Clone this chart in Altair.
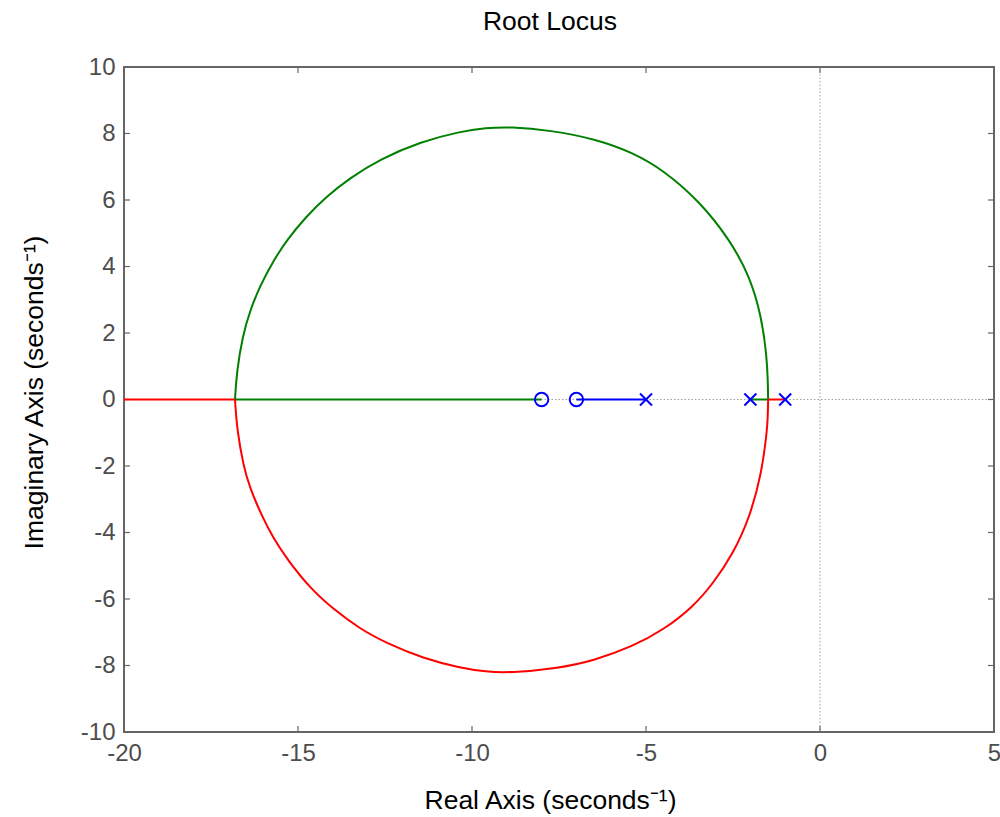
import altair as alt
import pandas as pd

# Open-loop poles (x) and zeros (o), all on the real axis
pole_re = [-1, -2, -5]
zero_re = [-8, -7]

# Breakaway and break-in points on the real axis
brk_right = -1.49
brk_left = -16.81

# Complex branch leaving the real axis at brk_right and re-entering at brk_left
upper_re = [-1.49, -1.50, -1.53, -1.68, -2.01, -2.59, -3.45, -4.50, -5.37, -6.42,
            -7.76, -8.91, -9.60, -10.34, -11.49, -12.64, -13.50, -14.20, -14.80,
            -15.30, -15.70, -16.09, -16.38, -16.59, -16.76, -16.81]
upper_im = [0, 0.60, 1.29, 2.49, 3.69, 4.80, 5.95, 6.90, 7.42, 7.83,
            8.10, 8.20, 8.17, 8.06, 7.75, 7.23, 6.67, 6.09, 5.46,
            4.82, 4.19, 3.42, 2.67, 1.92, 0.85, 0]
lower_re = [-1.49, -1.50, -1.53, -1.68, -2.01, -2.49, -3.07, -3.64, -4.50, -5.37,
            -6.51, -7.57, -8.91, -9.60, -10.34, -11.40, -12.45, -13.22, -13.99,
            -14.66, -15.32, -15.70, -16.04, -16.38, -16.57, -16.76, -16.81]
lower_im = [0, -0.55, -1.02, -2.22, -3.52, -4.63, -5.53, -6.23, -6.93, -7.42,
            -7.86, -8.09, -8.22, -8.19, -8.07, -7.79, -7.33, -6.90, -6.30,
            -5.67, -4.79, -4.19, -3.50, -2.67, -2.00, -0.85, 0]

x_ticks = [-20, -15, -10, -5, 0, 5]
y_ticks = [-10, -8, -6, -4, -2, 0, 2, 4, 6, 8, 10]

# Each branch is drawn as a few pieces: straight runs on the real axis and the arc
pieces = [
    ("blue", "b0", [-5, -7], [0, 0]),
    ("green", "g0", [-2, brk_right], [0, 0]),
    ("green", "g1", upper_re, upper_im),
    ("green", "g2", [brk_left, -8], [0, 0]),
    ("red", "r0", [-1, brk_right], [0, 0]),
    ("red", "r1", lower_re, lower_im),
    ("red", "r2", [brk_left, -20], [0, 0]),
]
rows = []
for branch, piece, re, im in pieces:
    for i, (r, m) in enumerate(zip(re, im)):
        rows.append({"branch": branch, "piece": piece, "k": i, "re": r, "im": m})
locus = pd.DataFrame(rows)

poles = pd.DataFrame({"re": pole_re, "im": [0] * len(pole_re)})
zeros = pd.DataFrame({"re": zero_re, "im": [0] * len(zero_re)})
xt = pd.DataFrame({"v": x_ticks})
yt = pd.DataFrame({"v": y_ticks})
origin = pd.DataFrame({"v": [0]})
heading = pd.DataFrame({"t": ["Root Locus"]})

W, H = 870, 665
FONT = "Liberation Sans"
GREY = "#666666"

x_scale = alt.Scale(domain=[-20, 5], nice=False, zero=False)
y_scale = alt.Scale(domain=[-10, 10], nice=False, zero=False)

common = dict(grid=False, domain=False, ticks=False, tickSize=0,
              labelFontSize=24, labelColor="#4d4d4d", labelPadding=9,
              labelFont=FONT, labelFlush=False, labelOverlap=False,
              labelExpr="'' + datum.value",
              titleFont=FONT, titleFontSize=26.5, titleFontWeight="normal",
              titleColor="#000000", titleBaseline="alphabetic", titleAlign="center")

x_axis = alt.Axis(values=x_ticks, title="Real Axis (seconds\u207b\u00b9)",
                  titleX=426, titleY=76, **common)
y_axis = alt.Axis(values=y_ticks, title="Imaginary Axis (seconds\u207b\u00b9)",
                  titleX=-82, titleY=325, titleAngle=270, **common)


def X(field):
    return alt.X(field, type="quantitative", scale=x_scale, axis=x_axis)


def Y(field):
    return alt.Y(field, type="quantitative", scale=y_scale, axis=y_axis)


# Dotted reference lines through the origin
h_zero = alt.Chart(origin).mark_rule(color="#a0a0a0", strokeWidth=1, strokeDash=[1.5, 2]).encode(y=Y("v"))
v_zero = alt.Chart(origin).mark_rule(color="#a0a0a0", strokeWidth=1, strokeDash=[1.5, 2]).encode(x=X("v"))

# Inward tick marks on all four sides of the box
tick_len = 6
t_bottom = alt.Chart(xt).mark_rule(color=GREY, strokeWidth=1.2).encode(
    x=X("v"), y=alt.value(H), y2=alt.value(H - tick_len))
t_top = alt.Chart(xt).mark_rule(color=GREY, strokeWidth=1.2).encode(
    x=X("v"), y=alt.value(0), y2=alt.value(tick_len))
t_left = alt.Chart(yt).mark_rule(color=GREY, strokeWidth=1.2).encode(
    y=Y("v"), x=alt.value(0), x2=alt.value(tick_len))
t_right = alt.Chart(yt).mark_rule(color=GREY, strokeWidth=1.2).encode(
    y=Y("v"), x=alt.value(W), x2=alt.value(W - tick_len))

lines = alt.Chart(locus).mark_line(strokeWidth=2, clip=True, interpolate="basis").encode(
    x=X("re"), y=Y("im"),
    color=alt.Color("branch:N", legend=None,
                    scale=alt.Scale(domain=["blue", "red", "green"],
                                    range=["#0000ff", "#ff0000", "#008000"])),
    detail="piece:N",
    order="k:Q",
)

pole_marks = alt.Chart(poles).mark_point(
    shape="M-1,-1L1,1M-1,1L1,-1", filled=False, color="#0000ff", strokeWidth=2, size=144, opacity=1
).encode(x=X("re"), y=Y("im"))

zero_marks = alt.Chart(zeros).mark_point(
    shape="circle", filled=False, color="#0000ff", strokeWidth=2, size=180, opacity=1
).encode(x=X("re"), y=Y("im"))

title_mark = alt.Chart(heading).mark_text(
    font=FONT, fontSize=26.5, color="#000000", align="center", baseline="alphabetic"
).encode(text="t:N", x=alt.value(426), y=alt.value(-37))

chart = alt.layer(h_zero, v_zero, t_bottom, t_top, t_left, t_right,
                  lines, pole_marks, zero_marks, title_mark).properties(
    width=W, height=H,
    autosize=alt.AutoSizeParams(type="none"),
    padding={"left": 124, "top": 67, "right": 6, "bottom": 85},
).configure(background="white").configure_view(stroke=GREY, strokeWidth=2)

chart.save("out.html", embed_options={"renderer": "svg", "actions": False})
